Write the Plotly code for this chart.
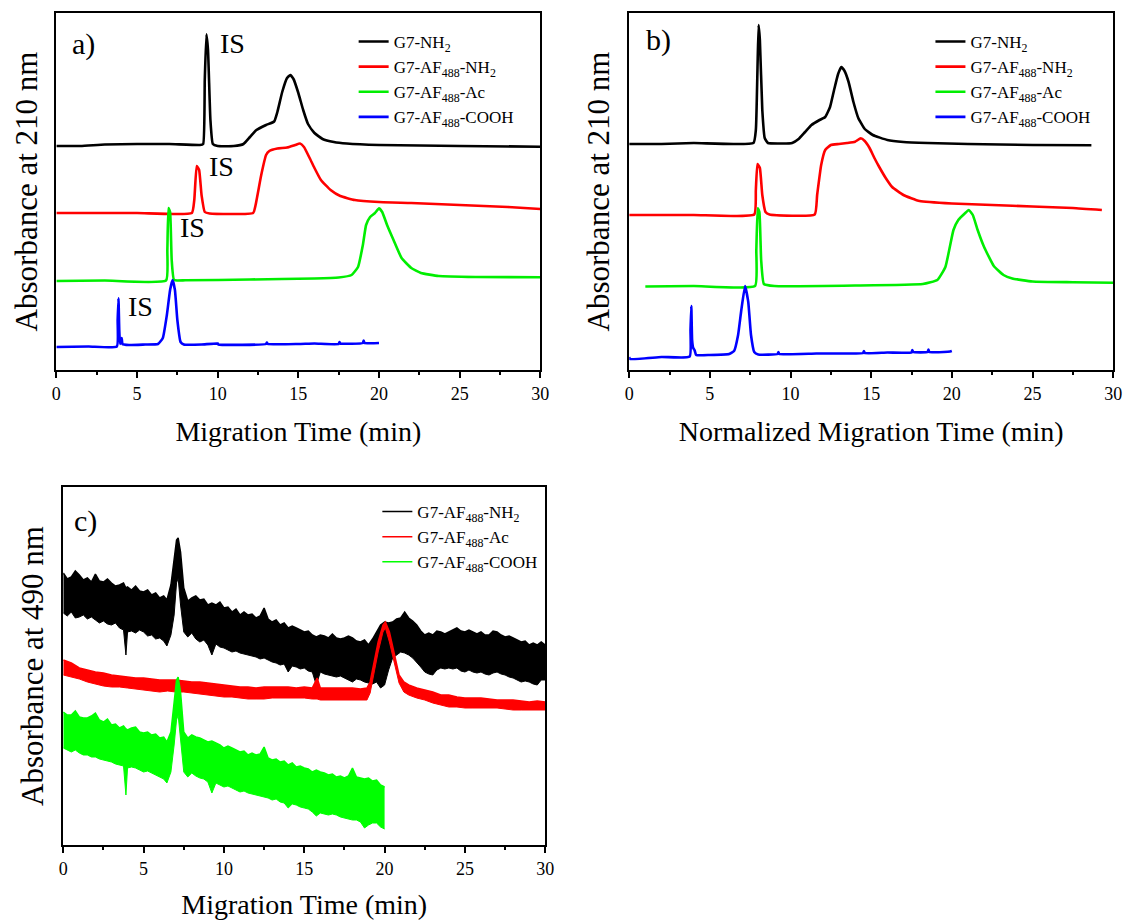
import plotly.graph_objects as go

# ---------------------------------------------------------------------------
# Electropherogram data: migration time (min) vs. absorbance (arbitrary units,
# traces stacked with their own baselines as in the published figure)
# ---------------------------------------------------------------------------

# Panel a) - absorbance at 210 nm vs migration time
a_g7_nh2 = [(0, 224), (1.5, 224), (3, 225.5), (5, 226), (7, 226), (8.9, 225), (9.1, 226),
            (9.2, 290), (9.3, 335.7), (9.4, 320), (9.55, 250), (9.7, 226), (10, 224),
            (11, 224), (11.6, 226), (12.0, 233), (12.4, 240), (13.0, 245), (13.5, 248.5),
            (13.7, 258), (14.0, 278), (14.3, 292), (14.5, 295), (14.7, 291), (15.0, 277),
            (15.3, 260), (15.6, 246), (16.0, 237), (16.5, 231), (17.2, 228), (18, 226.5),
            (20, 225), (25, 224), (30, 223.3)]
a_af_nh2 = [(0, 157), (5, 157), (8.4, 157), (8.55, 170), (8.7, 204), (8.85, 200),
            (9.0, 175), (9.2, 158), (9.5, 156.5), (12.2, 157), (12.35, 165), (12.7, 195),
            (13.0, 215), (13.2, 219), (13.7, 221.5), (14.3, 222.5), (14.8, 225),
            (15.1, 226.5), (15.35, 223), (15.7, 212), (16.0, 202), (16.4, 190), (17.0, 180),
            (17.6, 174), (18.5, 170), (20, 168), (22, 167), (25, 165), (28, 163), (30, 161)]
a_af_ac = [(0, 89), (3, 89.5), (6.8, 89.5), (6.88, 120), (6.95, 162), (7.05, 158),
           (7.15, 110), (7.3, 90), (8, 89.7), (12, 90.5), (16, 91.5), (17.5, 92.5),
           (18.3, 95), (18.7, 103), (19.0, 125), (19.2, 145), (19.45, 153), (19.75, 157),
           (20.0, 161.7), (20.2, 158), (20.5, 145), (20.9, 130), (21.4, 112), (22.0, 102),
           (22.6, 97), (23.7, 94), (26, 93), (30, 92.7)]
a_af_cooh = [(0, 23), (2, 23.5), (3.75, 23.5), (3.8, 50), (3.85, 71.7), (3.9, 40),
             (3.95, 26), (4.05, 32), (4.1, 26), (4.5, 25), (5.5, 25.5), (6.3, 26),
             (6.6, 32), (6.85, 55), (7.05, 80), (7.2, 90), (7.35, 80), (7.5, 50), (7.7, 28),
             (7.9, 25.5), (9, 25.5), (10, 26.5), (10.05, 25.5), (13, 26), (13.05, 27.5),
             (13.1, 26), (15, 26), (16, 26.5), (17.5, 26), (17.55, 28), (17.6, 26.5),
             (19, 27), (19.05, 29.5), (19.1, 27), (20, 27)]

# internal standard (IS) labels in panel a): (time, absorbance)
a_is_labels = [(10.9, 326), (10.25, 203), (8.45, 142), (5.2, 64)]

# Panel b) - absorbance at 210 nm vs normalized migration time
b_g7_nh2 = [(0, 226), (2, 226), (4, 227), (7.7, 227), (7.85, 240), (7.95, 300),
            (8.02, 345), (8.1, 330), (8.25, 260), (8.4, 232), (8.6, 227), (9.5, 226.5),
            (10.1, 227), (10.5, 231), (10.9, 238), (11.3, 245), (11.8, 250), (12.15, 253),
            (12.45, 263), (12.7, 280), (12.95, 296), (13.15, 303), (13.35, 299),
            (13.6, 288), (13.9, 268), (14.2, 252), (14.6, 241), (15.1, 235), (16, 230),
            (17, 228), (18.5, 227), (21, 226), (25, 225), (28.65, 224.7)]
b_af_nh2 = [(0, 155), (4, 155), (7.75, 155.5), (7.85, 180), (7.95, 206), (8.1, 202),
            (8.25, 175), (8.45, 158), (8.7, 155.5), (11.5, 155.5), (11.65, 175),
            (11.9, 205), (12.15, 220), (12.5, 225), (13.0, 226), (13.5, 227), (14.0, 228.3),
            (14.35, 231.7), (14.6, 229), (14.9, 222), (15.2, 212), (15.5, 203), (15.9, 192),
            (16.3, 183), (17.0, 175), (18.0, 169), (20, 166.5), (22.5, 165), (25, 163.5),
            (27.5, 162), (29.3, 160)]
b_af_ac = [(1, 83.5), (4, 84), (7.8, 84), (7.88, 120), (7.97, 161.7), (8.07, 158),
           (8.18, 110), (8.35, 86), (9, 84), (14, 84.5), (18.2, 86), (19.1, 90),
           (19.6, 103), (19.9, 125), (20.1, 140), (20.4, 150), (20.8, 156.5), (21.05, 160),
           (21.3, 155), (21.6, 140), (22.0, 123), (22.6, 104), (23.2, 95), (23.75, 91.5),
           (25, 88.5), (27.5, 87.8), (30, 87.3)]
b_af_cooh = [(0, 13), (0.05, 11), (2, 13), (3.75, 13.5), (3.8, 40), (3.85, 64), (3.9, 30),
             (3.97, 22), (4.05, 20), (4.15, 15), (5, 15), (6.2, 16), (6.5, 19), (6.75, 35),
             (6.95, 60), (7.18, 84), (7.38, 68), (7.55, 35), (7.75, 18), (8, 15.5),
             (9.2, 16), (9.25, 18), (9.3, 16), (11.6, 16.5), (13, 16.5), (14.5, 17),
             (14.55, 19), (14.6, 17), (16, 17.5), (17.5, 17.5), (17.55, 20), (17.6, 18),
             (18.5, 18), (18.55, 20.5), (18.6, 18), (19.5, 18), (19.9, 18.5), (20, 19)]

# Panel c) - absorbance at 490 nm; noisy detector signal given as (time, upper, lower)
c_af_nh2 = [(0, 272, 232), (0.25, 266, 229), (0.5, 268, 233), (0.75, 274, 227), (1, 270, 228),
            (1.25, 265, 230), (1.5, 267, 226), (1.75, 263, 228), (2, 271, 225),
            (2.25, 264, 222), (2.5, 263, 224), (2.75, 266, 221), (3, 262, 220),
            (3.25, 259, 222), (3.5, 260, 217), (3.75, 262, 215), (3.9, 257, 190),
            (4, 258, 213), (4.25, 255, 214), (4.5, 259, 212), (4.75, 254, 215),
            (5, 253, 213), (5.25, 255, 209), (5.5, 250, 210), (5.75, 252, 206),
            (6, 247, 207), (6.25, 249, 204), (6.45, 245, 199), (6.7, 260, 210),
            (6.9, 287, 230), (7.05, 305, 262), (7.15, 307, 267), (7.3, 293, 240),
            (7.5, 257, 213), (7.75, 244, 208), (8, 247, 212), (8.25, 249, 206),
            (8.5, 245, 203), (8.75, 246, 205), (9, 240, 200), (9.25, 242, 190),
            (9.5, 240, 201), (9.75, 243, 198), (10, 237, 197), (10.25, 238, 195),
            (10.5, 233, 193), (10.75, 236, 194), (11, 230, 192), (11.25, 233, 191),
            (11.5, 230, 190), (11.75, 231, 189), (12, 227, 188), (12.25, 229, 186),
            (12.5, 237, 187), (12.75, 226, 185), (13, 223, 183), (13.25, 225, 182),
            (13.5, 220, 180), (13.75, 222, 181), (14, 217, 173), (14.25, 219, 179),
            (14.5, 217, 178), (14.75, 215, 176), (15, 213, 177), (15.25, 214, 174),
            (15.5, 210, 173), (15.75, 208, 160), (16, 210, 173), (16.25, 209, 171),
            (16.5, 207, 170), (16.75, 211, 169), (17, 207, 168), (17.25, 206, 169),
            (17.5, 207, 167), (17.75, 209, 165), (18, 207, 163), (18.25, 204, 166),
            (18.5, 203, 165), (18.75, 205, 163), (19, 200, 162), (19.25, 206, 161),
            (19.5, 213, 163), (19.75, 220, 157), (20, 223, 160), (20.25, 222, 175),
            (20.5, 223, 187), (20.75, 226, 190), (21, 227, 193), (21.25, 233, 192),
            (21.5, 227, 190), (21.75, 224, 187), (22, 220, 183), (22.25, 214, 178),
            (22.5, 210, 173), (22.75, 212, 171), (23, 210, 170), (23.25, 214, 175),
            (23.5, 213, 177), (23.75, 211, 176), (24, 213, 177), (24.25, 215, 176),
            (24.5, 217, 177), (24.75, 214, 174), (25, 213, 173), (25.25, 215, 175),
            (25.5, 213, 173), (25.75, 211, 172), (26, 213, 173), (26.25, 210, 171),
            (26.5, 210, 170), (26.75, 214, 172), (27, 213, 173), (27.25, 210, 171),
            (27.5, 208, 170), (27.75, 209, 168), (28, 207, 167), (28.25, 205, 165),
            (28.5, 203, 163), (28.75, 204, 164), (29, 200, 163), (29.25, 202, 161),
            (29.5, 200, 160), (29.75, 203, 165), (30, 200, 165)]
c_af_ac = [(0, 185, 170), (0.5, 182, 168), (1, 177, 166), (1.5, 175, 163), (2, 173, 161),
           (2.5, 172, 159), (3, 170, 158), (3.5, 169, 158), (4, 168, 157), (4.5, 167, 156),
           (5, 167, 155), (5.5, 166, 154), (6, 165, 153), (6.5, 165, 154), (7, 165, 153),
           (7.5, 164, 153), (8, 163, 152), (8.5, 163, 151), (9, 162, 150), (9.5, 161, 149),
           (10, 160, 148), (10.5, 159, 148), (11, 158, 147), (11.5, 158, 146),
           (12, 157, 146), (12.5, 158, 146), (13, 158, 147), (13.5, 158, 147),
           (14, 158, 147), (14.5, 157, 147), (15, 158, 147), (15.5, 157, 146),
           (15.8, 167, 146), (16, 157, 145), (16.5, 157, 145), (17, 157, 145),
           (17.5, 157, 145), (18, 157, 145), (18.5, 156, 145), (18.9, 157, 145),
           (19.1, 163, 152), (19.3, 180, 170), (19.6, 203, 193), (19.9, 220, 213),
           (20.05, 223, 217), (20.3, 213, 203), (20.6, 190, 182), (20.9, 170, 162),
           (21.2, 163, 153), (21.5, 160, 150), (22, 157, 147), (22.5, 155, 145),
           (23, 153, 142), (23.5, 150, 140), (24, 150, 138), (24.5, 148, 138),
           (25, 147, 137), (25.5, 147, 137), (26, 147, 137), (26.5, 146, 137),
           (27, 145, 137), (27.5, 145, 136), (28, 145, 135), (28.5, 144, 135),
           (29, 143, 135), (29.5, 144, 135), (30, 143, 135)]
c_af_cooh = [(0, 133, 97), (0.25, 130, 95), (0.5, 130, 93), (0.75, 134, 95), (1, 128, 92),
             (1.25, 127, 90), (1.5, 127, 90), (1.75, 129, 88), (2, 132, 88), (2.25, 125, 86),
             (2.5, 123, 85), (2.75, 126, 84), (3, 120, 83), (3.25, 121, 81), (3.5, 117, 80),
             (3.75, 119, 79), (3.9, 116, 50), (4, 115, 77), (4.25, 117, 78), (4.5, 118, 77),
             (4.75, 113, 75), (5, 112, 73), (5.25, 113, 74), (5.5, 110, 72), (5.75, 111, 70),
             (6, 107, 68), (6.25, 108, 66), (6.45, 103, 62), (6.7, 113, 73), (6.9, 143, 100),
             (7.05, 165, 125), (7.15, 168, 130), (7.3, 153, 107), (7.5, 113, 73),
             (7.75, 107, 68), (8, 110, 72), (8.25, 108, 69), (8.5, 107, 67), (8.75, 105, 66),
             (9, 103, 63), (9.25, 104, 52), (9.5, 102, 62), (9.75, 100, 60), (10, 97, 58),
             (10.25, 99, 59), (10.5, 97, 57), (10.75, 95, 55), (11, 93, 53), (11.25, 94, 54),
             (11.5, 90, 52), (11.75, 92, 51), (12, 90, 50), (12.25, 91, 49), (12.5, 98, 48),
             (12.75, 87, 47), (13, 85, 45), (13.25, 86, 46), (13.5, 83, 43), (13.75, 84, 42),
             (14, 80, 37), (14.25, 82, 41), (14.5, 78, 40), (14.75, 79, 38), (15, 77, 37),
             (15.25, 76, 36), (15.5, 73, 33), (15.75, 75, 29), (16, 73, 32), (16.25, 72, 31),
             (16.5, 70, 30), (16.75, 71, 31), (17, 68, 30), (17.25, 69, 28), (17.5, 67, 27),
             (17.75, 69, 26), (18, 77, 25), (18.25, 68, 25), (18.5, 67, 23), (18.75, 66, 17),
             (19, 67, 20), (19.25, 64, 22), (19.5, 65, 22), (19.75, 60, 18), (20, 58, 16)]

# legend labels
NAME_NH2 = "G7-NH<sub>2</sub>"
NAME_AF_NH2 = "G7-AF<sub>488</sub>-NH<sub>2</sub>"
NAME_AF_AC = "G7-AF<sub>488</sub>-Ac"
NAME_AF_COOH = "G7-AF<sub>488</sub>-COOH"

BLACK, RED, GREEN, BLUE = "#000000", "#ff0000", "#00ee00", "#0000ff"
SERIF = "Liberation Serif"
W, H = 1135, 920


def col(rows, i):
    return [r[i] for r in rows]


fig = go.Figure()


def add_line(rows, name, color, xa, ya, legend):
    fig.add_trace(go.Scatter(
        x=col(rows, 0), y=col(rows, 1), mode="lines", name=name,
        line=dict(color=color, width=2.6, shape="spline", smoothing=0.4),
        xaxis=xa, yaxis=ya, legend=legend))


def add_noisy(rows, name, color, xa, ya, legend):
    # upper envelope carries the legend entry, lower envelope fills up to it
    fig.add_trace(go.Scatter(
        x=col(rows, 0), y=col(rows, 1), mode="lines", name=name,
        line=dict(color=color, width=1.5), xaxis=xa, yaxis=ya, legend=legend,
        legendgroup=name))
    fig.add_trace(go.Scatter(
        x=col(rows, 0), y=col(rows, 2), mode="lines", name=name, showlegend=False,
        line=dict(color=color, width=1.0), fill="tonexty", fillcolor=color,
        xaxis=xa, yaxis=ya, legendgroup=name))


for rows, name, color in [(a_g7_nh2, NAME_NH2, BLACK), (a_af_nh2, NAME_AF_NH2, RED),
                          (a_af_ac, NAME_AF_AC, GREEN), (a_af_cooh, NAME_AF_COOH, BLUE)]:
    add_line(rows, name, color, "x", "y", "legend")

for rows, name, color in [(b_g7_nh2, NAME_NH2, BLACK), (b_af_nh2, NAME_AF_NH2, RED),
                          (b_af_ac, NAME_AF_AC, GREEN), (b_af_cooh, NAME_AF_COOH, BLUE)]:
    add_line(rows, name, color, "x2", "y2", "legend2")

for rows, name, color in [(c_af_nh2, NAME_AF_NH2, BLACK), (c_af_ac, NAME_AF_AC, RED),
                          (c_af_cooh, NAME_AF_COOH, "#00ff00")]:
    add_noisy(rows, name, color, "x3", "y3", "legend3")


def fx(p):
    return p / W


def fy(p):
    return 1 - p / H


def x_axis(domain, anchor, title):
    return dict(
        domain=domain, anchor=anchor, range=[0, 30], autorange=False,
        showline=True, linecolor="black", linewidth=2, mirror=True,
        ticks="outside", ticklen=6, tickwidth=1.5, tickcolor="black",
        tick0=0, dtick=5,
        minor=dict(tick0=0, dtick=2.5, ticks="outside", ticklen=3, tickwidth=1.5,
                   tickcolor="black", showgrid=False),
        showgrid=False, zeroline=False,
        tickfont=dict(family=SERIF, size=18, color="black"),
        title=dict(text=title, font=dict(family=SERIF, size=28, color="black"), standoff=19))


def y_axis(domain, anchor, top, title):
    return dict(
        domain=domain, anchor=anchor, range=[0, top], autorange=False,
        showline=True, linecolor="black", linewidth=2, mirror=True,
        ticks="", showticklabels=False, showgrid=False, zeroline=False,
        title=dict(text=title, font=dict(family=SERIF, size=31, color="black"), standoff=8))


legend_style = dict(xanchor="left", yanchor="top", bgcolor="rgba(0,0,0,0)", borderwidth=0,
                    font=dict(family=SERIF, size=17, color="black"), itemwidth=30,
                    tracegroupgap=0, traceorder="normal")

fig.update_layout(
    width=W, height=H, margin=dict(l=0, r=0, t=0, b=0),
    paper_bgcolor="white", plot_bgcolor="white",
    font=dict(family=SERIF, size=17, color="black"),
    xaxis=x_axis([fx(52), fx(542)], "y", "Migration Time (min)"),
    yaxis=y_axis([fy(370), fy(13)], "x", 357, "Absorbance at 210 nm"),
    xaxis2=x_axis([fx(632), fx(1122)], "y2", "Normalized Migration Time (min)"),
    yaxis2=y_axis([fy(370), fy(13)], "x2", 357, "Absorbance at 210 nm"),
    xaxis3=x_axis([fx(59), fx(547)], "y3", "Migration Time (min)"),
    yaxis3=y_axis([fy(845), fy(487)], "x3", 358, "Absorbance at 490 nm"),
    legend=dict(x=fx(353), y=fy(24), **legend_style),
    legend2=dict(x=fx(937), y=fy(24), **legend_style),
    legend3=dict(x=fx(377), y=fy(494), **legend_style),
)

# IS markers in panel a)
for tx, ty in a_is_labels:
    fig.add_annotation(x=tx, y=ty, xref="x", yref="y", text="IS", showarrow=False,
                       font=dict(family=SERIF, size=28, color="black"))

# panel letters
for label, px, py in [("a)", 79, 44), ("b)", 662, 40), ("c)", 82, 521)]:
    fig.add_annotation(x=fx(px), y=fy(py), xref="paper", yref="paper", text=label,
                       showarrow=False, xanchor="center", yanchor="middle",
                       font=dict(family=SERIF, size=30, color="black"))

fig.write_html("out.html")
